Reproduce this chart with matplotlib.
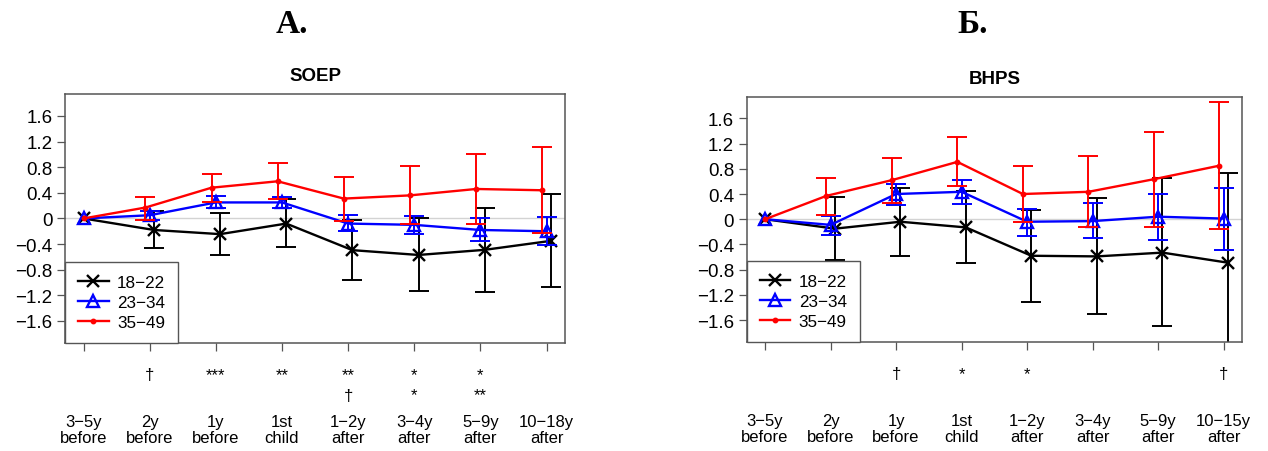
import numpy as np
import matplotlib
matplotlib.use("Agg")
import matplotlib.pyplot as plt

plt.rcParams['font.family'] = ['Liberation Sans', 'DejaVu Sans']

# data
positions = np.arange(1, 9)
groups = ["18−22", "23−34", "35−49"]

soep_labels = ["3−5y\nbefore", "2y\nbefore", "1y\nbefore", "1st\nchild",
               "1−2y\nafter", "3−4y\nafter", "5−9y\nafter", "10−18y\nafter"]
bhps_labels = ["3−5y\nbefore", "2y\nbefore", "1y\nbefore", "1st\nchild",
               "1−2y\nafter", "3−4y\nafter", "5−9y\nafter", "10−15y\nafter"]

soep_sig1 = ["", "†", "***", "**", "**", "*", "*", ""]
soep_sig2 = ["", "", "", "", "†", "*", "**", ""]
bhps_sig1 = ["", "", "†", "*", "*", "", "", "†"]
bhps_sig2 = ["", "", "", "", "", "", "", ""]

# SOEP
soep_young = [0, -0.18, -0.245, -0.08, -0.495, -0.57, -0.49, -0.35]
soep_young_hi = [0, 0.11, 0.08, 0.30, -0.03, 0.00, 0.17, 0.375]
soep_young_lo = [0, -0.46, -0.57, -0.45, -0.96, -1.13, -1.15, -1.07]
soep_mid = [0, 0.05, 0.25, 0.25, -0.08, -0.10, -0.18, -0.20]
soep_mid_hi = [0, 0.12, 0.35, 0.34, 0.05, 0.04, 0.00, 0.03]
soep_mid_lo = [0, -0.02, 0.17, 0.17, -0.19, -0.25, -0.35, -0.42]
soep_old = [0, 0.17, 0.48, 0.58, 0.31, 0.36, 0.46, 0.44]
soep_old_hi = [0, 0.34, 0.70, 0.87, 0.65, 0.82, 1.01, 1.11]
soep_old_lo = [0, -0.02, 0.25, 0.30, -0.04, -0.08, -0.09, -0.22]

# BHPS
bhps_young = [0, -0.15, -0.04, -0.13, -0.58, -0.59, -0.53, -0.69]
bhps_young_hi = [0, 0.355, 0.50, 0.445, 0.14, 0.33, 0.65, 0.74]
bhps_young_lo = [0, -0.65, -0.59, -0.70, -1.31, -1.50, -1.70, -2.12]
bhps_mid = [0, -0.09, 0.40, 0.435, -0.04, -0.03, 0.04, 0.01]
bhps_mid_hi = [0, 0.05, 0.56, 0.62, 0.165, 0.25, 0.40, 0.50]
bhps_mid_lo = [0, -0.25, 0.22, 0.24, -0.265, -0.30, -0.33, -0.49]
bhps_old = [0, 0.37, 0.62, 0.91, 0.40, 0.435, 0.635, 0.85]
bhps_old_hi = [0, 0.66, 0.965, 1.30, 0.85, 1.01, 1.39, 1.86]
bhps_old_lo = [0, 0.06, 0.255, 0.53, -0.05, -0.13, -0.12, -0.16]

yticks = [-1.6, -1.2, -0.8, -0.4, 0, 0.4, 0.8, 1.2, 1.6]

# style per group: color, marker, horizontal dodge
styles = [
    dict(color="black", marker="x", ms=8.5, mfc="black", dodge=0.065),
    dict(color="#0000ff", marker="^", ms=8, mfc="none", dodge=0.0),
    dict(color="#ff0000", marker=".", ms=5, mfc="#ff0000", dodge=-0.065),
]
spine_col = "#555555"


def panel(ax, title, labels, means, his, los, sig1, sig2):
    ax.axhline(0, color="#d3d3d3", lw=1, zorder=0)
    handles = []
    for st, m, hi, lo, name in zip(styles, means, his, los, groups):
        m, hi, lo = np.array(m), np.array(hi), np.array(lo)
        xs = positions + np.where(positions == 1, 0, st["dodge"])
        ln, = ax.plot(xs, m, color=st["color"], marker=st["marker"], ms=st["ms"],
                      mfc=st["mfc"], mec=st["color"], mew=1.7, lw=1.7, label=name)
        handles.append(ln)
        ax.errorbar(xs[1:], m[1:], yerr=[m[1:] - lo[1:], hi[1:] - m[1:]], fmt="none",
                    ecolor=st["color"], elinewidth=1.4, capsize=7.5, capthick=1.4)

    ax.set_xlim(0.72, 8.28)
    ax.set_ylim(-1.944, 1.944)
    ax.set_yticks(yticks)
    ax.set_yticklabels(["0" if v == 0 else f"{v:.1f}".replace("-", "−") for v in yticks])
    ax.set_xticks(positions)
    ax.set_xticklabels(labels, linespacing=1.1)
    ax.tick_params(axis="both", direction="out", length=6, width=0.9, color=spine_col,
                   labelcolor="black")
    ax.tick_params(axis="x", pad=45, labelsize=12)
    ax.tick_params(axis="y", pad=3, labelsize=13.5)
    for s in ax.spines.values():
        s.set_color(spine_col)
        s.set_linewidth(1.1)

    for x, a, b in zip(positions, sig1, sig2):
        if a:
            ax.annotate(a, xy=(x, 0), xycoords=ax.get_xaxis_transform(),
                        xytext=(0, -23), textcoords="offset points",
                        ha="center", va="center", fontsize=12)
        if b:
            ax.annotate(b, xy=(x, 0), xycoords=ax.get_xaxis_transform(),
                        xytext=(0, -37.5), textcoords="offset points",
                        ha="center", va="center", fontsize=12)

    ax.set_title(title, fontsize=13.5, fontweight="bold", pad=10)
    leg = ax.legend(handles=handles, loc="lower left", borderaxespad=0, fancybox=False,
                    edgecolor=spine_col, framealpha=1, fontsize=12.3, handlelength=1.8,
                    labelspacing=0.3, handletextpad=0.5, borderpad=0.75)
    leg.get_frame().set_linewidth(1.0)


fig = plt.figure(figsize=(12.68, 4.52), dpi=100)
ax1 = fig.add_axes([0.0513, 0.239, 0.3943, 0.551])
ax2 = fig.add_axes([0.5889, 0.2418, 0.3906, 0.542])

panel(ax1, "SOEP", soep_labels,
      [soep_young, soep_mid, soep_old],
      [soep_young_hi, soep_mid_hi, soep_old_hi],
      [soep_young_lo, soep_mid_lo, soep_old_lo],
      soep_sig1, soep_sig2)
panel(ax2, "BHPS", bhps_labels,
      [bhps_young, bhps_mid, bhps_old],
      [bhps_young_hi, bhps_mid_hi, bhps_old_hi],
      [bhps_young_lo, bhps_mid_lo, bhps_old_lo],
      bhps_sig1, bhps_sig2)

fig.text(292 / 1268, 1 - 33 / 452, "А.", family=["Liberation Serif", "DejaVu Serif"],
         fontsize=24, fontweight="bold", ha="center", va="baseline")
fig.text(973 / 1268, 1 - 33 / 452, "Б.", family=["Liberation Serif", "DejaVu Serif"],
         fontsize=24, fontweight="bold", ha="center", va="baseline")

fig.savefig("out.png", dpi=100)
